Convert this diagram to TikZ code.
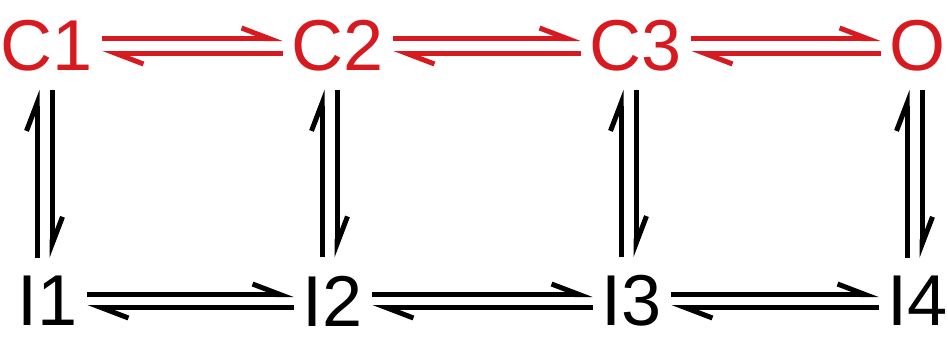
\documentclass[tikz,border=0pt]{standalone}
\usepackage{fontspec}
\setmainfont{Liberation Sans}
\usetikzlibrary{arrows.meta}
\definecolor{chanred}{RGB}{214,26,32}
\begin{document}
\begin{tikzpicture}[
  every node/.style={font=\fontsize{41}{48}\selectfont,inner xsep=0.18cm,inner ysep=0.36cm},
  closed/.style={text=chanred},
  harp/.style={-{Straight Barb[left,length=0.55cm,width=0.42cm]},line width=0.1cm}]
\useasboundingbox (0,0) rectangle (18.96,6.86);
\node[closed] (C1) at (0.94,5.94) {C1};
\node[closed] (C2) at (6.76,5.94) {C2};
\node[closed] (C3) at (12.72,5.94) {C3};
\node[closed] (O) at (18.36,5.94) {O};
\node (I1) at (0.96,0.84) {I1};
\node (I2) at (6.66,0.84) {I2};
\node (I3) at (12.64,0.84) {I3};
\node (I4) at (18.36,0.84) {I4};
\foreach \a/\b in {C1/C2,C2/C3,C3/O}{
  \draw[harp,chanred] ([yshift=0.15cm]\a.east) -- ([yshift=0.15cm]\b.west);
  \draw[harp,chanred] ([yshift=-0.15cm]\b.west) -- ([yshift=-0.15cm]\a.east);
}
\foreach \a/\b in {I1/I2,I2/I3,I3/I4}{
  \draw[harp] ([yshift=0.13cm]\a.east) -- ([yshift=0.13cm]\b.west);
  \draw[harp] ([yshift=-0.13cm]\b.west) -- ([yshift=-0.13cm]\a.east);
}
\foreach \c/\i in {C1/I1,C2/I2,C3/I3,O/I4}{
  \coordinate (\i t) at (\i.north |- \c.south);
  \draw[harp] ([xshift=-0.22cm]\i.north) -- ([xshift=-0.22cm]\i t);
  \draw[harp] ([xshift=0.08cm]\i t) -- ([xshift=0.08cm]\i.north);
}
\end{tikzpicture}
\end{document}
